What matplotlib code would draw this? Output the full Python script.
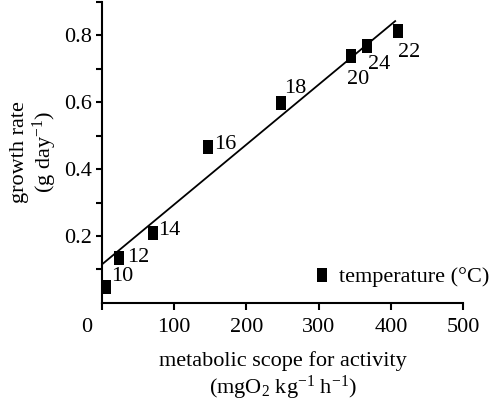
import numpy as np
import matplotlib
matplotlib.use("Agg")
import matplotlib.pyplot as plt
from matplotlib.path import Path
import matplotlib.transforms as mtransforms

plt.rcParams['font.family'] = ['Liberation Serif', 'DejaVu Serif']
plt.rcParams['mathtext.fontset'] = 'custom'
plt.rcParams['mathtext.rm'] = 'Liberation Serif'
plt.rcParams['mathtext.it'] = 'Liberation Serif:italic'

# data
scope = [5, 23.5, 71, 147, 247.5, 345, 367, 409.5]
growth = [0.048, 0.135, 0.209, 0.467, 0.598, 0.737, 0.766, 0.813]
temps = ['10', '12', '14', '16', '18', '20', '24', '22']
# label offsets (pixels) from the marker centre
lab_dx = [6, 8, 5, 6, 3, -4, 1, 0]
lab_dy = [10, 0, 2, 2, 14, -23, -18, -22]

fit_x = [0, 406]
fit_icpt = 0.115
fit_slope = 0.00179

FS = 16

# tall rectangular marker
rect = Path([(-0.35, -0.5), (0.35, -0.5), (0.35, 0.5), (-0.35, 0.5), (-0.35, -0.5)],
            [Path.MOVETO, Path.LINETO, Path.LINETO, Path.LINETO, Path.CLOSEPOLY])

fig = plt.figure(figsize=(4.9, 4.05), dpi=100)
ax = fig.add_axes([0.208, 0.252, 0.737, 0.744])

fx = np.array(fit_x, dtype=float)
ax.plot(fx, fit_icpt + fit_slope * fx, color='black', lw=1.3, zorder=2)
ax.plot(scope, growth, linestyle='none', marker=rect, markersize=9.4,
        color='black', markeredgewidth=0, zorder=3, label='temperature (°C)')

for x, y, t, dx, dy in zip(scope, growth, temps, lab_dx, lab_dy):
    ax.annotate(t, (x, y), xytext=(dx, dy), textcoords='offset pixels',
                ha='left', va='center', fontsize=FS)

ax.set_xlim(0, 500)
ax.set_ylim(0, 0.9)
ax.set_xticks([0, 100, 200, 300, 400, 500])
ax.set_yticks([0.2, 0.4, 0.6, 0.8])
ax.set_yticks([0.1, 0.3, 0.5, 0.7, 0.9], minor=True)
ax.set_yticklabels(['0.2', '0.4', '0.6', '0.8'])

for s in ['top', 'right']:
    ax.spines[s].set_visible(False)
for s in ['left', 'bottom']:
    ax.spines[s].set_linewidth(1.5)

ax.tick_params(axis='both', which='both', direction='out', width=1.5,
               labelsize=FS, colors='black')
ax.tick_params(axis='x', length=5, pad=6)
ax.tick_params(axis='y', which='both', length=4, pad=3)

# shift the "0" label left like the original
offset = mtransforms.ScaledTranslation(-15 / 100, 0, fig.dpi_scale_trans)
lbl0 = ax.get_xticklabels()[0]
lbl0.set_transform(lbl0.get_transform() + offset)

ax.set_xlabel('metabolic scope for activity\n(mgO$_2$ kg$^{-1}$ h$^{-1}$)',
              fontsize=FS, linespacing=1.15, labelpad=10)
ax.set_ylabel('growth rate\n(g day$^{-1}$)', fontsize=FS, linespacing=1.1,
              labelpad=4)

ax.legend(loc='center left', bbox_to_anchor=(0.578, 0.086), frameon=False,
          borderpad=0, borderaxespad=0, handlelength=1, handletextpad=0.26,
          fontsize=FS, numpoints=1)

fig.savefig('out.png', dpi=100)
